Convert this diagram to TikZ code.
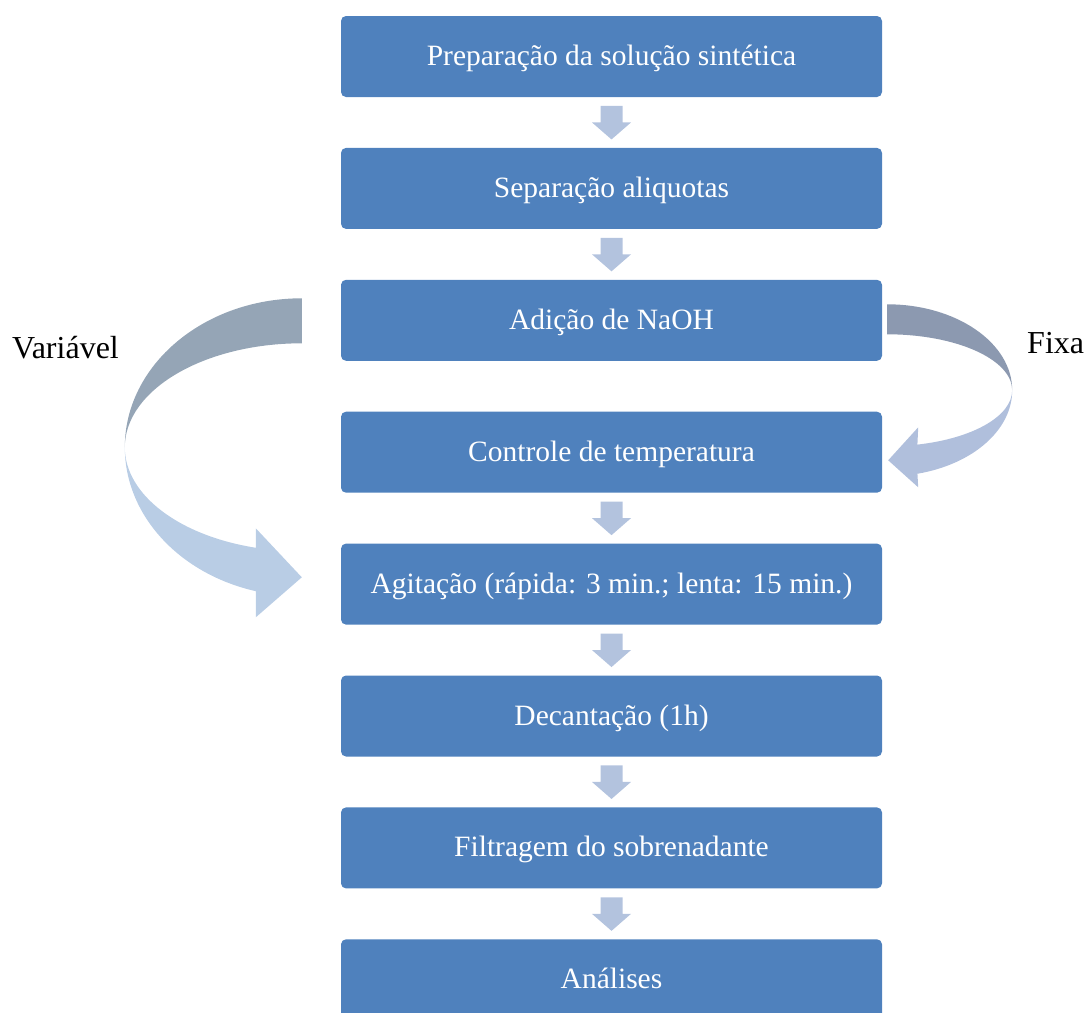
\documentclass[tikz,border=0pt]{standalone}
\usepackage{fontspec}
\setmainfont{Liberation Serif}
\usetikzlibrary{positioning,calc}

\tikzset{
    stepbox/.style={rectangle, rounded corners=5pt, fill=boxblue, text=white,
        minimum width=541pt, minimum height=81pt, inner sep=0pt,
        text height=18pt, text depth=0pt, font=\fontsize{29.5}{34}\selectfont},
    sidelabel/.style={inner sep=0pt, font=\fontsize{32}{36}\selectfont},
    downfill/.style={fill=arrowblue},
}

\begin{document}
\begin{tikzpicture}[x=1pt, y=1pt]
    % Define colors
    \definecolor{boxblue}{RGB}{79,129,189}
    \definecolor{arrowblue}{RGB}{179,195,222}
    \definecolor{leftdark}{RGB}{149,165,182}
    \definecolor{leftlight}{RGB}{185,205,229}
    \definecolor{rightdark}{RGB}{140,153,176}
    \definecolor{rightlight}{RGB}{176,191,220}

    \useasboundingbox (0,0) rectangle (1084,-1012);

    % Process steps
    \node[stepbox] (prep) at (611.5,-56.5) {Preparação da solução sintética};
    \node[stepbox, below=50.5pt of prep] (separ) {Separação aliquotas};
    \node[stepbox, below=50.5pt of separ] (naoh) {Adição de NaOH};
    \node[stepbox, below=50.5pt of naoh] (temp) {Controle de temperatura};
    \node[stepbox, below=50.5pt of temp] (agit) {Agitação (rápida: 3 min.; lenta: 15 min.)};
    \node[stepbox, below=50.5pt of agit] (decant) {Decantação (1h)};
    \node[stepbox, below=50.5pt of decant] (filtr) {Filtragem do sobrenadante};
    \node[stepbox, below=50.5pt of filtr] (anal) {Análises};

    % Block arrows between steps
    \foreach \a/\b in {prep/separ, separ/naoh, temp/agit, agit/decant, decant/filtr, filtr/anal} {
        \path (\a.south) -- (\b.north) coordinate[midway] (mid);
        \fill[downfill] ($(mid)+(-11,16.5)$) -- ++(22,0) -- ++(0,-16.5) -- ++(8.5,0)
            -- ++(-19.5,-17) -- ++(-19.5,17) -- ++(8.5,0) -- cycle;
    }

    % Curved arrow, left side
    \coordinate (lc) at ($(naoh.west)+(-39,-127)$);
    \fill[leftdark] ($(lc)+(0,149)$) arc[start angle=90, end angle=180, x radius=177, y radius=149]
        arc[start angle=180, end angle=90, x radius=177, y radius=104] -- cycle;
    \fill[leftlight] ($(lc)+(-177,0)$) arc[start angle=180, end angle=255, x radius=177, y radius=149]
        -- ($(lc)+(-46,-170)$) -- ($(lc)+(0,-130)$) -- ($(lc)+(-46,-81)$)
        -- ($(lc)+(-45.8,-100.5)$) arc[start angle=255, end angle=180, x radius=177, y radius=104] -- cycle;

    % Curved arrow, right side
    \coordinate (rc) at ($(naoh.east)+(5,-70)$);
    \fill[rightdark] ($(rc)+(0,86)$) arc[start angle=90, end angle=0, x radius=125, y radius=86]
        arc[start angle=0, end angle=90, x radius=125, y radius=56] -- cycle;
    \fill[rightlight] ($(rc)+(125,0)$) arc[start angle=0, end angle=-76, x radius=125, y radius=86]
        -- ($(rc)+(31,-97)$) -- ($(rc)+(1,-70)$) -- ($(rc)+(31,-37)$)
        -- ($(rc)+(30.2,-54.3)$) arc[start angle=-76, end angle=0, x radius=125, y radius=56] -- cycle;

    % Labels
    \node[sidelabel, anchor=base west] (var) at (12,-358) {Variável};
    \node[sidelabel, anchor=base west] (fixa) at (1027,-353) {Fixa};

\end{tikzpicture}
\end{document}
